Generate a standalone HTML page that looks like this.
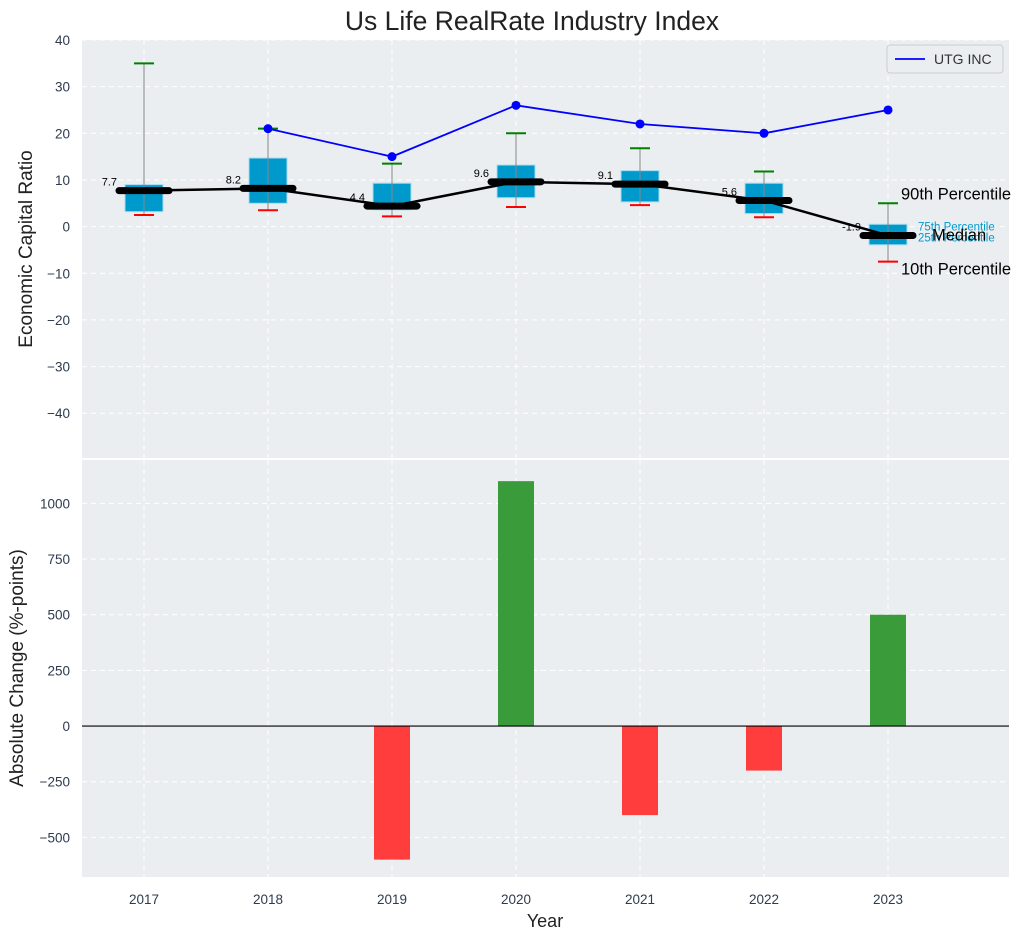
<!DOCTYPE html>
<html><head><meta charset="utf-8"><style>
body{margin:0;background:#fff;font-family:"Liberation Sans",sans-serif;}
svg text{font-family:"Liberation Sans",sans-serif;}
</style></head><body>
<svg id="c" width="1021" height="940" xmlns="http://www.w3.org/2000/svg"></svg>
<script>
const years=[2017,2018,2019,2020,2021,2022,2023];
const p90=[35,21,13.5,20,16.8,11.8,5];
const p75=[9,14.7,9.3,13.2,12,9.3,0.5];
const med=[7.7,8.2,4.4,9.6,9.1,5.6,-1.9];
const p25=[3.2,5,3.6,6.2,5.3,2.8,-3.9];
const p10=[2.5,3.5,2.2,4.2,4.6,2,-7.5];
const utgYears=[2018,2019,2020,2021,2022,2023];
const utg=[21,15,26,22,20,25];
const change=[0,0,-600,1100,-400,-200,500];
const topTicks=[-40,-30,-20,-10,0,10,20,30,40];
const botTicks=[-500,-250,0,250,500,750,1000];

const svg=document.getElementById('c');
const NS='http://www.w3.org/2000/svg';
function el(t,a,p){const e=document.createElementNS(NS,t);for(const k in a)e.setAttribute(k,a[k]);(p||svg).appendChild(e);return e;}
const L=82,R=1009;
const x=v=>L+(v-2016.5)*124;
const T0=40,T1=458, yt=v=>T0+(40-v)/(40-(-49.6))*(T1-T0);
const B0=460,B1=877, yb=v=>B0+(1195-v)/(1195-(-678))*(B1-B0);

let e=el('rect',{x:L,y:T0,width:R-L,height:T1-T0,fill:'#eaeef0'});

e=el('rect',{x:L,y:B0,width:R-L,height:B1-B0,fill:'#eaeef0'});


years.forEach(yr=>{
  el('line',{x1:x(yr),x2:x(yr),y1:T0,y2:T1,stroke:'#fff','stroke-dasharray':'5,4','stroke-width':1});
  el('line',{x1:x(yr),x2:x(yr),y1:B0,y2:B1,stroke:'#fff','stroke-dasharray':'5,4','stroke-width':1});
  e=el('text',{x:x(yr),y:904,'text-anchor':'middle','font-size':13.5,fill:'#2e3b4e'});e.textContent=yr;
  
});
topTicks.forEach(v=>{
  el('line',{x1:L,x2:R,y1:yt(v),y2:yt(v),stroke:'#fff','stroke-dasharray':'5,4'});
  e=el('text',{x:70,y:yt(v)+5,'text-anchor':'end','font-size':13.5,fill:'#2e3b4e'});e.textContent=v<0?'\u2212'+(-v):v;
  
});
botTicks.forEach(v=>{
  el('line',{x1:L,x2:R,y1:yb(v),y2:yb(v),stroke:'#fff','stroke-dasharray':'5,4'});
  e=el('text',{x:70,y:yb(v)+5,'text-anchor':'end','font-size':13.5,fill:'#2e3b4e'});e.textContent=v<0?'\u2212'+(-v):v;
  
});

years.forEach((yr,i)=>{
  const cx=x(yr);
  e=el('rect',{x:cx-19,y:yt(p75[i]),width:38,height:yt(p25[i])-yt(p75[i]),fill:'#0099cc',stroke:'#a6dcf0','stroke-width':1});
  
  el('line',{x1:cx,x2:cx,y1:yt(p90[i]),y2:yt(p10[i]),stroke:'#888','stroke-width':1});
  e=el('line',{x1:cx-10,x2:cx+10,y1:yt(p90[i]),y2:yt(p90[i]),stroke:'green','stroke-width':2});
  
  e=el('line',{x1:cx-10,x2:cx+10,y1:yt(p10[i]),y2:yt(p10[i]),stroke:'red','stroke-width':2});
  
});
let d=years.map((yr,i)=>(i?'L':'M')+x(yr)+','+yt(med[i])).join(' ');
e=el('path',{d:d,fill:'none',stroke:'#000','stroke-width':2.5});

years.forEach((yr,i)=>{
  const cx=x(yr);
  e=el('line',{x1:cx-25,x2:cx+25,y1:yt(med[i]),y2:yt(med[i]),stroke:'#000','stroke-width':7,'stroke-linecap':'round'});
  
  e=el('text',{x:cx-27,y:yt(med[i])-5,'text-anchor':'end','font-size':11,fill:'#000'});e.textContent=med[i];
  
});
d=utgYears.map((yr,i)=>(i?'L':'M')+x(yr)+','+yt(utg[i])).join(' ');
e=el('path',{d:d,fill:'none',stroke:'blue','stroke-width':1.8});

utgYears.forEach((yr,i)=>{e=el('circle',{cx:x(yr),cy:yt(utg[i]),r:4.5,fill:'blue'});
  });

const lx=x(2023);
const ann=[['90th Percentile',lx+13,yt(p90[6])-4,16.5,'#000'],['75th Percentile',lx+30,yt(p75[6])+6,11.5,'#0099cc'],['25th Percentile',lx+30,yt(med[6])+6,11.5,'#0099cc'],['Median',lx+44,yt(med[6])+5,16.5,'#000'],['10th Percentile',lx+13,yt(p10[6])+13,16.5,'#000']];
ann.forEach(a=>{e=el('text',{x:a[1],y:a[2],'font-size':a[3],fill:a[4]});e.textContent=a[0];
  });

const lg=el('g',{});
el('rect',{x:887,y:45,width:116,height:28,fill:'#eaeef0',stroke:'#ccc',rx:3},lg);
el('line',{x1:895,x2:925,y1:59,y2:59,stroke:'blue','stroke-width':1.8},lg);
e=el('text',{x:934,y:64,'font-size':14,fill:'#333'},lg);e.textContent='UTG INC';

const y0=yb(0);
years.forEach((yr,i)=>{
  if(change[i]===0)return;
  const yv=yb(change[i]);
  e=el('rect',{x:x(yr)-18,y:Math.min(yv,y0),width:36,height:Math.abs(yv-y0),fill:change[i]>0?'#3a9b3a':'#ff3d3d'});
  
});
el('line',{x1:L,x2:R,y1:y0,y2:y0,stroke:'#000','stroke-width':1.2});

e=el('text',{x:532,y:30,'text-anchor':'middle','font-size':26.5,fill:'#222'});e.textContent='Us Life RealRate Industry Index';

e=el('text',{x:32,y:249,'text-anchor':'middle','font-size':19,fill:'#222',transform:'rotate(-90 32 249)'});e.textContent='Economic Capital Ratio';

e=el('text',{x:23,y:668,'text-anchor':'middle','font-size':19,fill:'#222',transform:'rotate(-90 23 668)'});e.textContent='Absolute Change (%-points)';

e=el('text',{x:545,y:927,'text-anchor':'middle','font-size':18,fill:'#222'});e.textContent='Year';

</script>
</body></html>
